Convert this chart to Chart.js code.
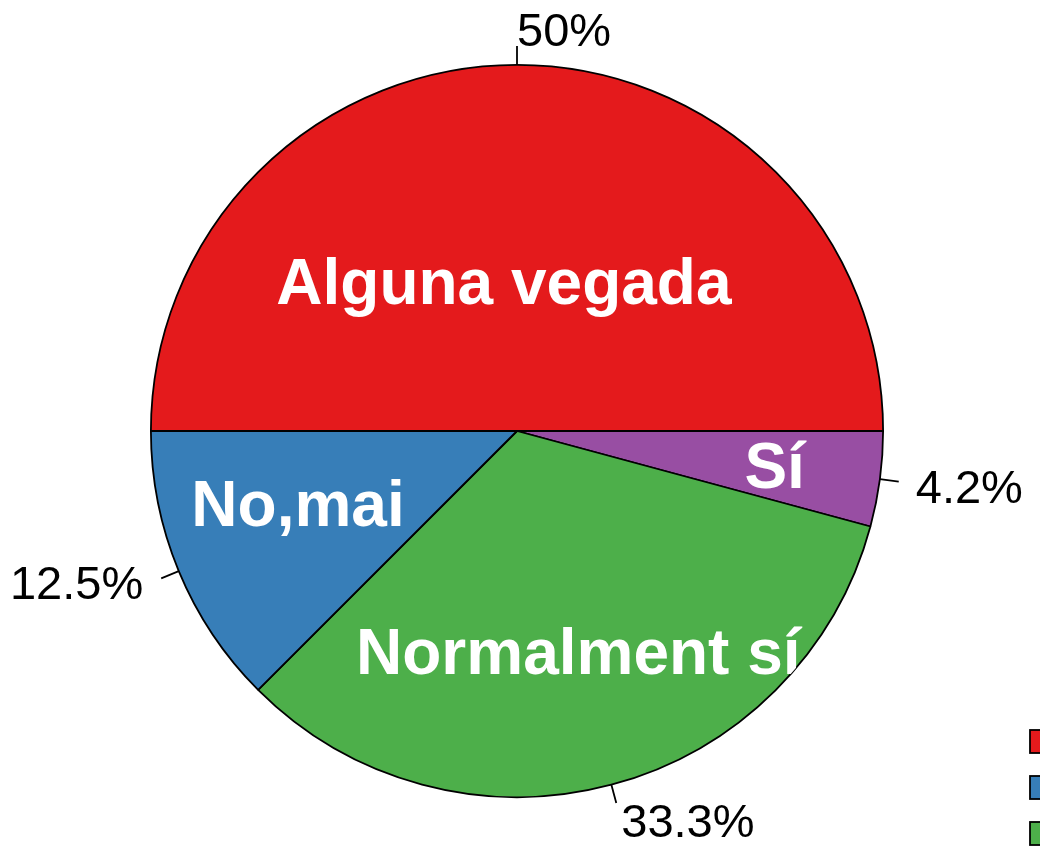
<!DOCTYPE html>
<html>
<head>
<meta charset="utf-8">
<script src="https://cdn.jsdelivr.net/npm/chart.js@4/dist/chart.umd.min.js"></script>
<style>
html,body{margin:0;padding:0;background:#fff;overflow:hidden;}
canvas{display:block;}
</style>
</head>
<body>
<canvas id="c" width="1040" height="851"></canvas>
<script>
// Data (legend order)
const categories = ["Alguna vegada", "No,mai", "Normalment sí", "Sí"];
const percentages = [50, 12.5, 33.3, 4.2];
const percentLabels = ["50%", "12.5%", "33.3%", "4.2%"];
const sliceColors = ["#E41A1C", "#377EB8", "#4DAF4A", "#984EA3"];

// Label placement styles (legend order)
const innerRadiusFactor = [0.41, 0.63, 0.625, 0.71];
const innerAngleShiftDeg = [-5, 4.2, -0.6, 0];

// Drawing order: clockwise from 3 o'clock = reversed legend order
const order = categories.map((_, i) => categories.length - 1 - i);

const labelPlugin = {
  id: 'pieLabels',
  afterDatasetsDraw(chart) {
    const ctx = chart.ctx;
    const meta = chart.getDatasetMeta(0);
    const arcs = meta.data;
    if (!arcs.length) return;
    const cx = arcs[0].x, cy = arcs[0].y, R = arcs[0].outerRadius;

    // inner labels, clipped to the pie
    ctx.save();
    ctx.beginPath();
    ctx.arc(cx, cy, R, 0, Math.PI * 2);
    ctx.clip();
    ctx.fillStyle = '#ffffff';
    ctx.font = 'bold 64px "Liberation Sans", Arial, sans-serif';
    ctx.textAlign = 'center';
    ctx.textBaseline = 'alphabetic';
    arcs.forEach((arc, j) => {
      const k = order[j];
      const mid = (arc.startAngle + arc.endAngle) / 2 + innerAngleShiftDeg[k] * Math.PI / 180;
      const r = R * innerRadiusFactor[k];
      const x = cx + r * Math.cos(mid);
      const y = cy + r * Math.sin(mid);
      ctx.fillText(categories[k], x, y + 23);
    });
    ctx.restore();

    // outer percentage labels with leader lines
    ctx.save();
    ctx.strokeStyle = '#000';
    ctx.lineWidth = 1.8;
    ctx.fillStyle = '#000';
    ctx.font = '47px "Liberation Sans", Arial, sans-serif';
    ctx.textBaseline = 'alphabetic';
    arcs.forEach((arc, j) => {
      const k = order[j];
      const mid = (arc.startAngle + arc.endAngle) / 2;
      const c = Math.cos(mid), s = Math.sin(mid);
      const sx = cx + R * c, sy = cy + R * s;
      const ex = cx + (R + 19) * c, ey = cy + (R + 19) * s;
      ctx.beginPath();
      ctx.moveTo(sx, sy);
      ctx.lineTo(ex, ey);
      ctx.stroke();
      let tx, ty;
      if (Math.abs(c) > 0.5) {
        ctx.textAlign = c > 0 ? 'left' : 'right';
        tx = ex + (c > 0 ? 17 : -18);
        ty = ey + 21;
      } else {
        ctx.textAlign = 'left';
        tx = ex + (c > 0.05 ? 5 : 0);
        ty = s < 0 ? ey : ey + 34;
      }
      ctx.fillText(percentLabels[k], tx, ty);
    });
    ctx.restore();

    // legend (partially outside the canvas)
    ctx.save();
    ctx.lineWidth = 1.8;
    ctx.strokeStyle = '#000';
    ctx.font = '47px "Liberation Sans", Arial, sans-serif';
    ctx.textAlign = 'left';
    ctx.textBaseline = 'middle';
    categories.forEach((cat, i) => {
      const x = 1030, y = 730 + i * 46;
      ctx.fillStyle = sliceColors[i];
      ctx.fillRect(x, y, 23, 23);
      ctx.strokeRect(x, y, 23, 23);
      ctx.fillStyle = '#000';
      ctx.fillText(cat, x + 35, y + 12);
    });
    ctx.restore();
  }
};

new Chart(document.getElementById('c'), {
  type: 'pie',
  data: {
    labels: order.map(k => categories[k]),
    datasets: [{
      data: order.map(k => percentages[k]),
      backgroundColor: order.map(k => sliceColors[k]),
      borderColor: '#000000',
      borderWidth: 1.8
    }]
  },
  options: {
    responsive: false,
    animation: false,
    rotation: 90,
    layout: { padding: { top: 64, bottom: 53, left: 150, right: 156 } },
    plugins: {
      legend: { display: false },
      tooltip: { enabled: false }
    }
  },
  plugins: [labelPlugin]
});
</script>
</body>
</html>
